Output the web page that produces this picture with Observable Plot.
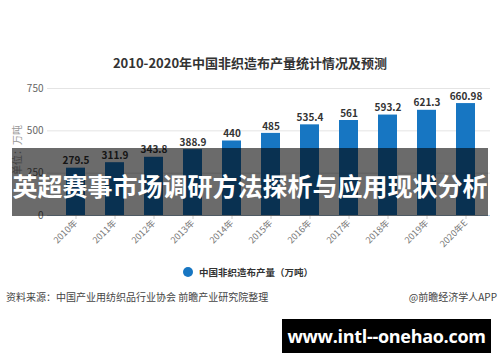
<!DOCTYPE html>
<html><head><meta charset="utf-8">
<script src="https://cdn.jsdelivr.net/npm/d3@7"></script>
<script src="https://cdn.jsdelivr.net/npm/@observablehq/plot@0.6"></script>
<style>
body{margin:0;background:#fff;font-family:"Noto Sans CJK SC","Noto Sans",sans-serif;}
#wrap{position:relative;width:500px;height:362px;overflow:hidden;background:#fff;}
.abs{position:absolute;white-space:nowrap;}
#title{left:0;width:500px;top:53px;text-align:center;font-size:13px;font-weight:bold;color:#333;line-height:20px;}
#chart{left:0;top:70px;}
#ylab{left:16px;top:150px;font-size:10px;color:#999;transform:translate(-50%,-50%) rotate(-90deg);}
#legend{left:183px;top:264px;font-size:9.5px;font-weight:bold;color:#333;line-height:16px;display:flex;align-items:center;}
#legend .dot{width:10px;height:10px;border-radius:50%;margin-right:6px;}
#source{left:6px;top:289px;font-size:10px;color:#444;line-height:16px;}
#credit{right:3px;top:289px;font-size:10px;color:#444;line-height:16px;}
#overlay{left:12px;top:148px;width:476px;height:68px;background:rgba(0,0,0,0.58);color:#fff;font-weight:bold;font-size:25px;text-align:center;line-height:68px;padding-top:3px;box-sizing:border-box;}
#site{left:282px;top:319px;width:209px;height:34px;background:#000;color:#fff;font-family:"Open Sans",sans-serif;font-weight:bold;font-size:18px;text-align:center;line-height:34px;letter-spacing:-0.3px;}
</style></head><body>
<div id="wrap">
  <div id="title" class="abs"></div>
  <div id="chart" class="abs"></div>
  <div id="ylab" class="abs"></div>
  <div id="legend" class="abs"><span class="dot"></span><span id="legtext"></span></div>
  <div id="source" class="abs"></div>
  <div id="credit" class="abs"></div>
  <div id="overlay" class="abs"></div>
  <div id="site" class="abs"></div>
</div>
<script>
const titleText = "2010-2020年中国非织造布产量统计情况及预测";
const years = ["2010年","2011年","2012年","2013年","2014年","2015年","2016年","2017年","2018年","2019年","2020年E"];
const values = [279.5, 311.9, 343.8, 388.9, 440, 485, 535.4, 561, 593.2, 621.3, 660.98];
const valueLabels = ["279.5","311.9","343.8","388.9","440","485","535.4","561","593.2","621.3","660.98"];
const yTicks = [0, 250, 500, 750];
const seriesName = "中国非织造布产量（万吨）";
const yLabel = "单位：万吨";
const sourceText = "资料来源：中国产业用纺织品行业协会 前瞻产业研究院整理";
const creditText = "@前瞻经济学人APP";
const overlayText = "英超赛事市场调研方法探析与应用现状分析";
const siteText = "www.intl--onehao.com";
const barColor = "#1776c2";

document.getElementById("title").textContent = titleText;
document.getElementById("ylab").textContent = yLabel;
document.getElementById("legtext").textContent = seriesName;
document.querySelector("#legend .dot").style.background = barColor;
document.getElementById("source").textContent = sourceText;
document.getElementById("credit").textContent = creditText;
document.getElementById("overlay").textContent = overlayText;
document.getElementById("site").textContent = siteText;

const data = years.map((y, i) => ({year: y, value: values[i], label: valueLabels[i]}));
const font = '"Noto Sans CJK SC","Noto Sans",sans-serif';
const plot = Plot.plot({
  width: 500, height: 190,
  marginLeft: 47, marginRight: 10, marginTop: 18, marginBottom: 45,
  style: {background: "transparent", fontFamily: font, overflow: "visible"},
  x: {type: "band", domain: years, paddingInner: 0.52, paddingOuter: 0.26, insetLeft: 7, insetRight: 4, label: null},
  y: {domain: [0, 750], label: null},
  marks: [
    Plot.ruleY(yTicks.filter(d => d > 0), {stroke: "#e4e4e4"}),
    Plot.barY(data, {x: "year", y: "value", fill: barColor}),
    Plot.ruleY([0], {stroke: "#bcd6ec"}),
    Plot.text(data, {x: "year", y: "value", text: "label", dy: -7, fontWeight: "bold", fontSize: 10, fill: "#333"}),
    Plot.axisY({ticks: yTicks, tickSize: 0, tickPadding: 4, fontSize: 10, fill: "#666", label: null}),
    Plot.axisX({tickRotate: -45, tickSize: 4, stroke: "#ccc", fill: "#777", fontSize: 9, tickPadding: 2, label: null})
  ]
});
document.getElementById("chart").appendChild(plot);
</script>
</body></html>
